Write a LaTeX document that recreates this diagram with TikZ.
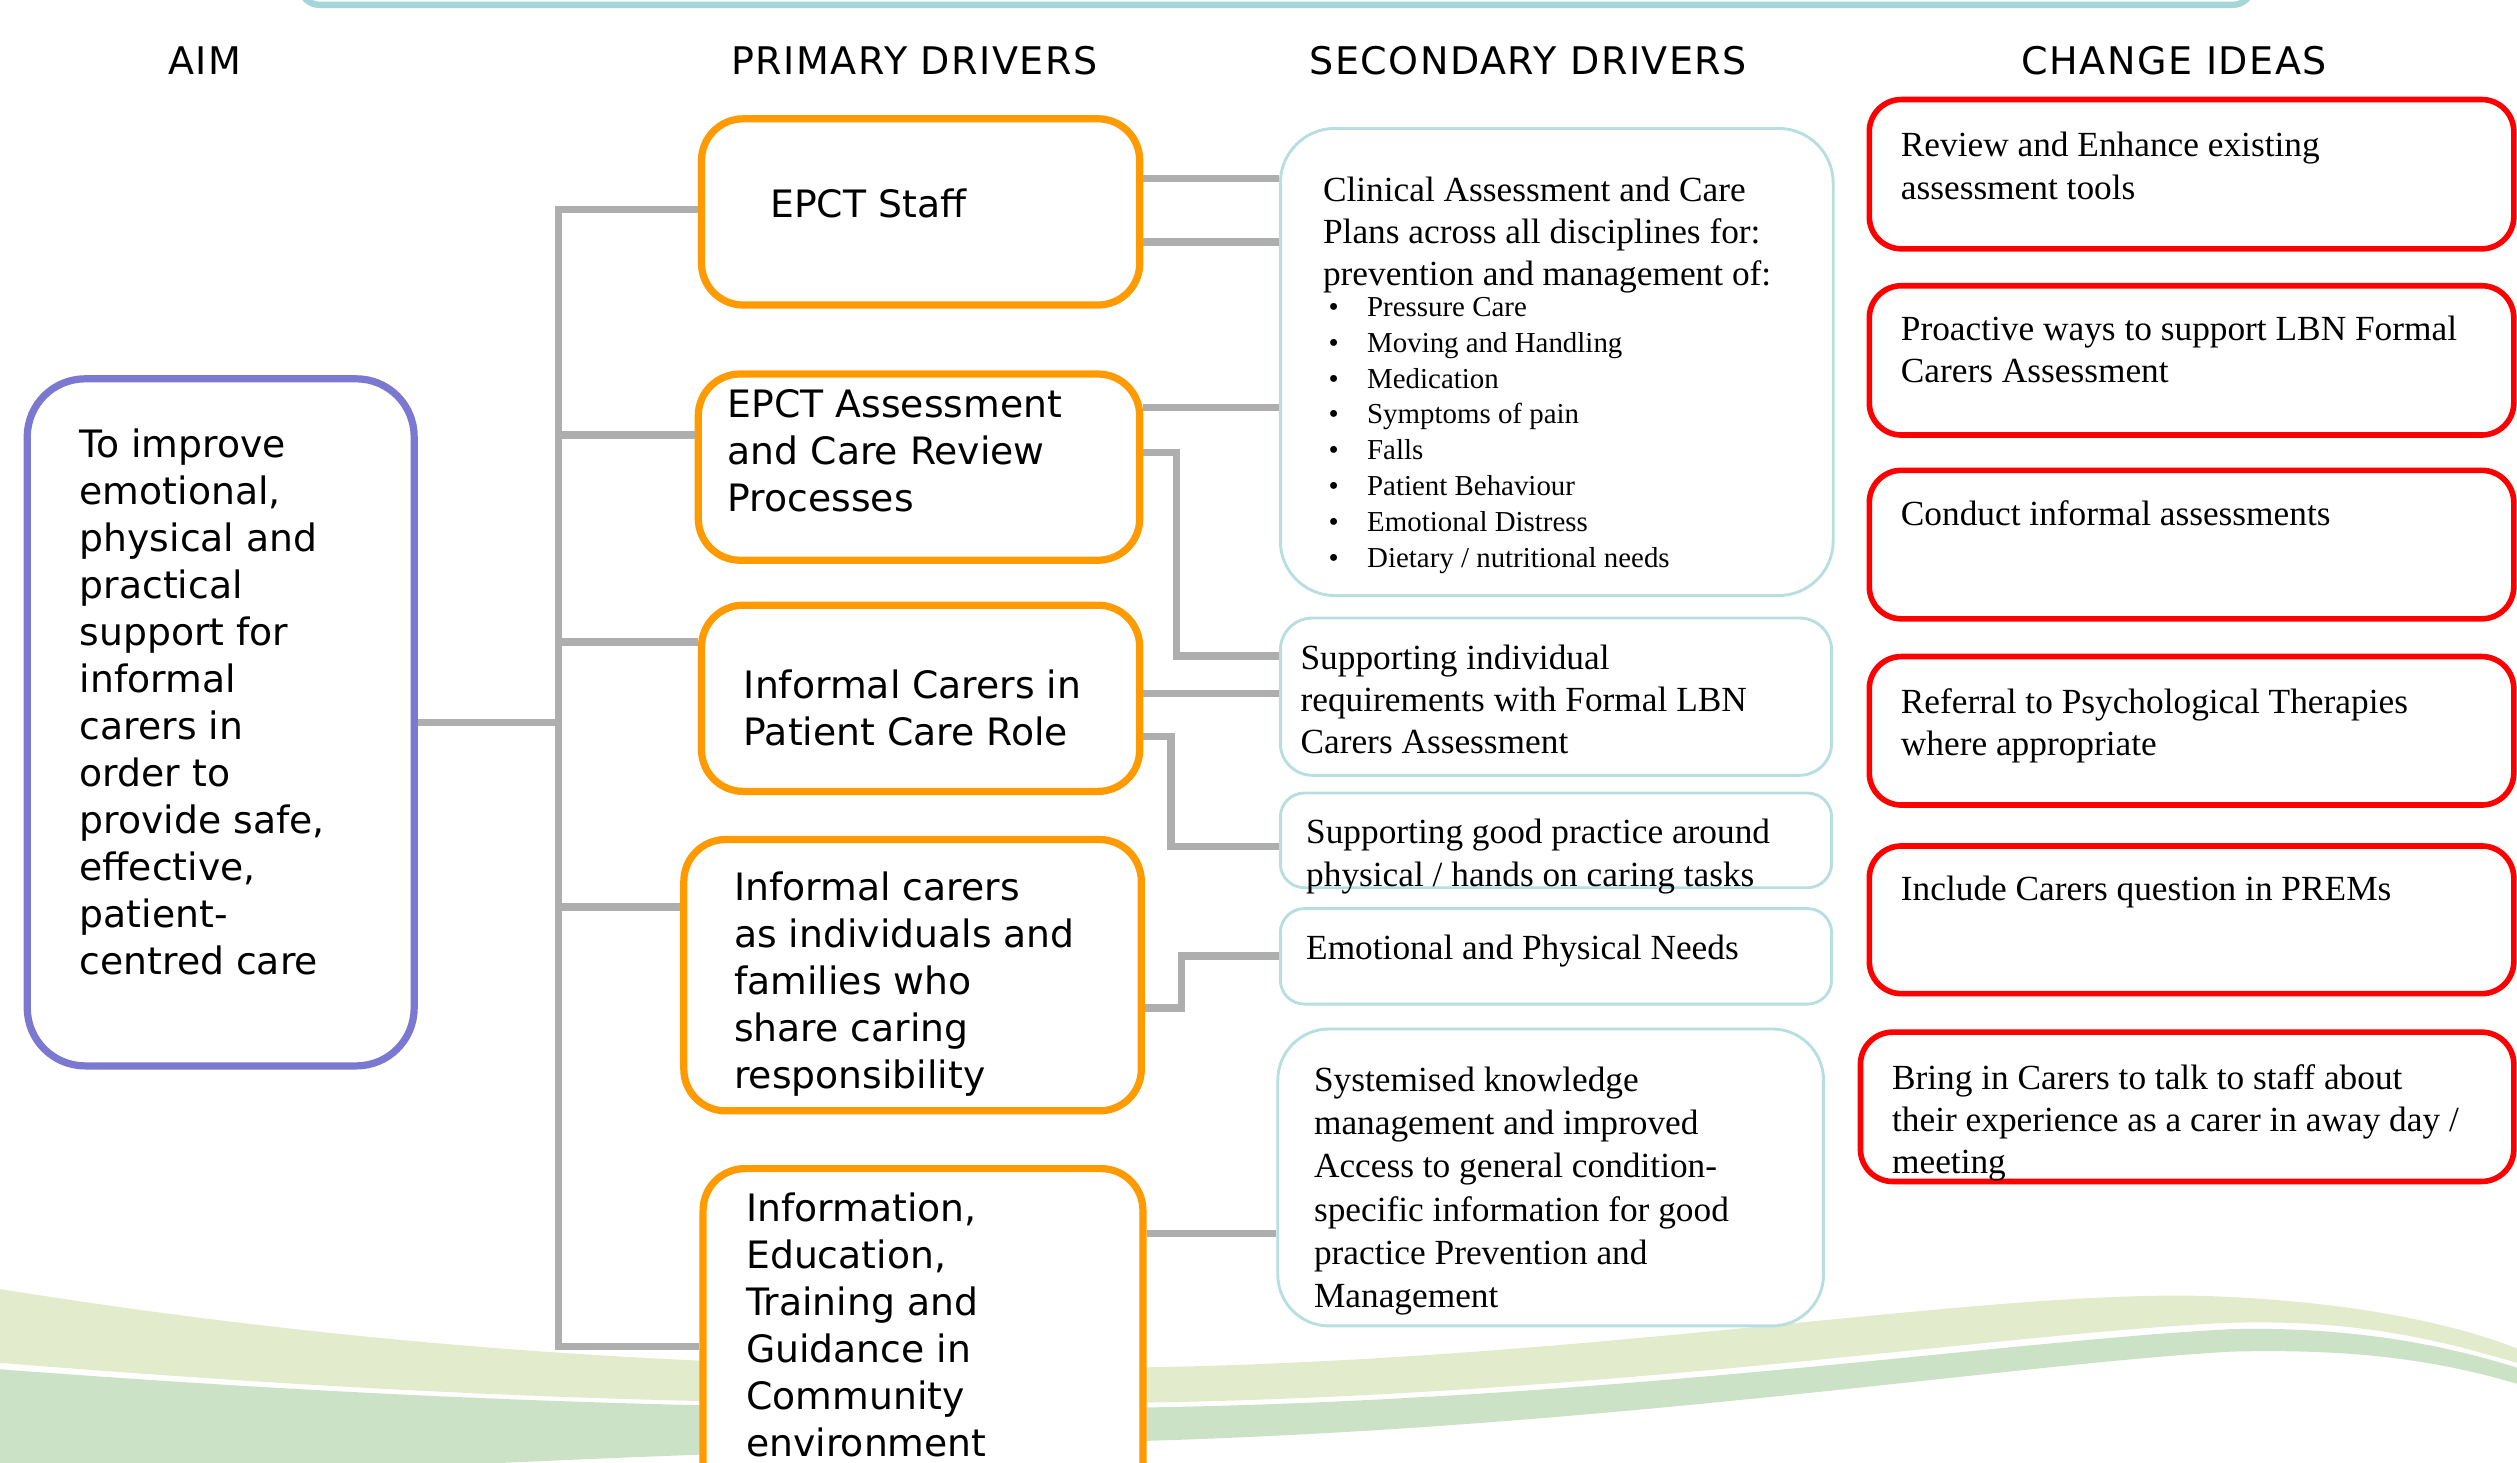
\documentclass[tikz,border=0pt]{standalone}
\usepackage{fontspec}
\setmainfont{Liberation Serif}
\newfontfamily\vsans{DejaVu Sans}
\newfontfamily\vhead[LetterSpace=4]{DejaVu Sans}

\definecolor{aimpurple}{HTML}{7A78D0}
\definecolor{priorange}{HTML}{FF9A00}
\definecolor{secteal}{HTML}{B7DEE1}
\definecolor{ideared}{HTML}{FF0000}
\definecolor{linkgrey}{HTML}{AEAEAE}
\definecolor{barteal}{HTML}{A4D5D8}
\definecolor{swooshlight}{HTML}{E2ECCC}
\definecolor{swooshmid}{HTML}{CCE2C7}

\begin{document}
\begin{tikzpicture}[x=1pt, y=-1pt,
  aimbox/.style={draw=aimpurple, line width=4.5pt, rounded corners=36pt, fill=white, inner sep=0pt},
  pribox/.style={draw=priorange, line width=4.5pt, rounded corners=26pt, fill=white, inner sep=0pt},
  secbox/.style={draw=secteal, line width=1.8pt, fill=white, inner sep=0pt},
  ideabox/.style={draw=ideared, line width=3.5pt, rounded corners=20pt, fill=white, inner sep=0pt},
  link/.style={draw=linkgrey, line width=4.5pt},
  head/.style={font=\vhead\fontsize{23.7}{28}\selectfont, anchor=base, inner sep=0pt},
  pritext/.style={font=\vsans\fontsize{23.5}{29.3}\selectfont, align=left, anchor=north west, inner sep=0pt},
  sectext/.style={font=\fontsize{22}{26.3}\selectfont, align=left, anchor=north west, inner sep=0pt},
  listtext/.style={font=\fontsize{18}{22.3}\selectfont, align=left, anchor=north west, inner sep=0pt}]

\useasboundingbox (0,0) rectangle (1568,911);
\clip (0,0) rectangle (1568,911);

% green bands along the bottom
\fill[swooshlight] (0,803) .. controls (200,835) and (420,855) .. (700,852)
  .. controls (1000,848) and (1250,800) .. (1390,808)
  .. controls (1470,812) and (1530,825) .. (1568,840) -- (1568,849)
  .. controls (1520,835) and (1470,822) .. (1390,824)
  .. controls (1250,830) and (1000,870) .. (700,874)
  .. controls (420,878) and (200,865) .. (0,849) -- cycle;
\fill[swooshmid] (0,853) .. controls (200,868) and (420,880) .. (700,877)
  .. controls (1000,873) and (1250,835) .. (1390,828)
  .. controls (1470,826) and (1530,840) .. (1568,852) -- (1568,862)
  .. controls (1520,848) and (1470,840) .. (1390,842)
  .. controls (1250,850) and (1000,890) .. (700,898)
  .. controls (420,905) and (200,915) .. (0,930) -- cycle;

% bar along the top edge
\draw[barteal, line width=4pt, rounded corners=12pt] (187,-40) rectangle (1403,3);

% column titles
\node[head] (h-aim) at (127.7,46.5) {AIM};
\node[head] (h-pri) at (569.7,46.5) {PRIMARY DRIVERS};
\node[head] (h-sec) at (952,46.5) {SECONDARY DRIVERS};
\node[head] (h-idea) at (1354.5,46.5) {CHANGE IDEAS};

% aim
\node[aimbox, minimum width=241pt, minimum height=428pt] (aim) at (137.5,450) {};
\node[pritext] (aim-t) at (49.5,267) {To improve\\emotional,\\physical and\\practical\\support for\\informal\\carers in\\order to\\provide safe,\\effective,\\patient-\\centred care};

% primary drivers
\node[pribox, minimum width=273pt, minimum height=116pt] (staff) at (573.5,132) {};
\node[pritext] (staff-t) at (479.7,117.5) {EPCT Staff};
\node[pribox, minimum width=275pt, minimum height=116pt] (assess) at (572.5,291) {};
\node[pritext] (assess-t) at (453.2,242.6) {EPCT Assessment\\and Care Review\\Processes};
\node[pribox, minimum width=273pt, minimum height=116pt] (role) at (573.5,435) {};
\node[pritext] (role-t) at (463.2,417) {Informal Carers in\\Patient Care Role};
\node[pribox, minimum width=285pt, minimum height=169pt] (indiv) at (568.5,607.5) {};
\node[pritext] (indiv-t) at (457.2,543) {Informal carers\\as individuals and\\families who\\share caring\\responsibility};
\node[pribox, minimum width=274pt, minimum height=210pt] (info) at (575,833) {};
\node[pritext] (info-t) at (464.7,743) {Information,\\Education,\\Training and\\Guidance in\\Community\\environment};

% secondary drivers
\node[secbox, rounded corners=34pt, minimum width=344.4pt, minimum height=291pt] (clin) at (969.8,225.5) {};
\node[sectext] (clin-t) at (824,110) {Clinical Assessment and Care\\Plans across all disciplines for:\\prevention and management of:};
\node[listtext] (clin-list) at (827.5,185) {\makebox[24pt][l]{\textbullet}Pressure Care\\
  \makebox[24pt][l]{\textbullet}Moving and Handling\\
  \makebox[24pt][l]{\textbullet}Medication\\
  \makebox[24pt][l]{\textbullet}Symptoms of pain\\
  \makebox[24pt][l]{\textbullet}Falls\\
  \makebox[24pt][l]{\textbullet}Patient Behaviour\\
  \makebox[24pt][l]{\textbullet}Emotional Distress\\
  \makebox[24pt][l]{\textbullet}Dietary / nutritional needs};
\node[secbox, rounded corners=20pt, minimum width=343.4pt, minimum height=98pt] (sindiv) at (969.3,434) {};
\node[sectext] (sindiv-t) at (810,401.3) {Supporting individual\\requirements with Formal LBN\\Carers Assessment};
\node[secbox, rounded corners=15pt, minimum width=343.4pt, minimum height=59pt] (sgood) at (969.3,523.5) {};
\node[sectext] (sgood-t) at (813.5,510.3) {Supporting good practice around\\physical / hands on caring tasks};
\node[secbox, rounded corners=15pt, minimum width=343.4pt, minimum height=59.5pt] (emot) at (969.3,595.75) {};
\node[sectext] (emot-t) at (813.5,582) {Emotional and Physical Needs};
\node[secbox, rounded corners=32pt, minimum width=340pt, minimum height=185pt] (syst) at (966,733.5) {};
\node[sectext, font=\fontsize{22}{27}\selectfont] (syst-t) at (818.4,664.3) {Systemised knowledge\\management and improved\\Access to general condition-\\specific information for good\\practice Prevention and\\Management};

% change ideas
\node[ideabox, minimum width=401.5pt, minimum height=93pt] (rev) at (1365.25,108.5) {};
\node[sectext] (rev-t) at (1184,82.3) {Review and Enhance existing\\assessment tools};
\node[ideabox, minimum width=401.5pt, minimum height=93pt] (proact) at (1365.25,224.5) {};
\node[sectext] (proact-t) at (1184,196.8) {Proactive ways to support LBN Formal\\Carers Assessment};
\node[ideabox, minimum width=401.5pt, minimum height=92.5pt] (cond) at (1365.25,339.25) {};
\node[sectext] (cond-t) at (1184,311.4) {Conduct informal assessments};
\node[ideabox, minimum width=401.5pt, minimum height=92.5pt] (refer) at (1365.25,455.25) {};
\node[sectext] (refer-t) at (1184,428.7) {Referral to Psychological Therapies\\where appropriate};
\node[ideabox, minimum width=401.5pt, minimum height=92pt] (prems) at (1365.25,573) {};
\node[sectext] (prems-t) at (1184,545.8) {Include Carers question in PREMs};
\node[ideabox, minimum width=407pt, minimum height=93pt] (bring) at (1362.5,689.5) {};
\node[sectext] (bring-t) at (1178.5,663) {Bring in Carers to talk to staff about\\their experience as a carer in away day /\\meeting};

% aim to primary drivers
\coordinate (trunk-top) at (348,130.5);
\coordinate (trunk-bot) at (348,838.6);
\draw[link] (staff.west |- trunk-top) -- (trunk-top) -- (trunk-bot) -- (info.west |- trunk-bot);
\draw[link] (aim.east) -- (aim.east -| trunk-top);
\foreach \n/\y in {assess/271, role/400, indiv/565}
  \draw[link] (348,\y) -- (\n.west |- 0,\y);

% primary to secondary drivers
\draw[link] (staff.east |- 0,111) -- (clin.west |- 0,111);
\draw[link] (staff.east |- 0,150.8) -- (clin.west |- 0,150.8);
\draw[link] (assess.east |- 0,254) -- (clin.west |- 0,254);
\draw[link] (assess.east |- 0,282) -| (733,408.6) -- (sindiv.west |- 0,408.6);
\draw[link] (role.east |- 0,432) -- (sindiv.west |- 0,432);
\draw[link] (role.east |- 0,459) -| (729.5,527.4) -- (sgood.west |- 0,527.4);
\draw[link] (indiv.east |- 0,628) -| (736,595.5) -- (emot.west |- 0,595.5);
\draw[link] (info.east |- 0,768.6) -- (syst.west |- 0,768.6);

\end{tikzpicture}
\end{document}
